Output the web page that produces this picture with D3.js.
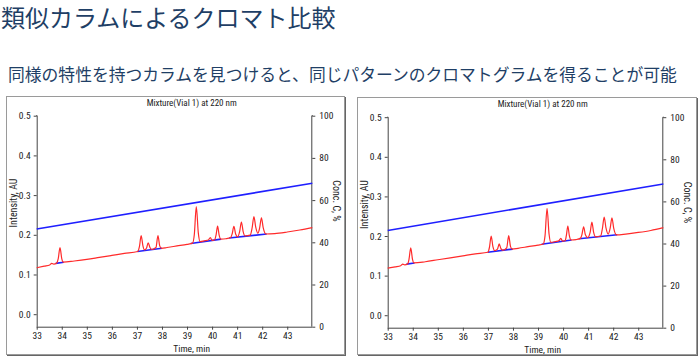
<!DOCTYPE html>
<html>
<head>
<meta charset="utf-8">
<script src="https://cdn.jsdelivr.net/npm/d3@7"></script>
<style>
  html, body { margin: 0; padding: 0; background: #fff; }
  svg { display: block; }
  .chart text { font-family: "Liberation Sans Narrow", "Arial Narrow", "Roboto Condensed", "Liberation Sans", Arial, sans-serif; fill: #222; }
  .jp { font-family: "Noto Sans CJK JP", "Noto Sans CJK SC", sans-serif; }
</style>
</head>
<body>
<svg id="root" width="700" height="357"></svg>
<script>
// ---------- data ----------
const titleText = "類似カラムによるクロマト比較";
const subtitleText = "同様の特性を持つカラムを見つけると、同じパターンのクロマトグラムを得ることが可能";
const chartTitle = "Mixture(Vial 1) at 220 nm";
const xLabel = "Time, min";
const yLabelLeft = "Intensity, AU";
const yLabelRight = "Conc. C, %";

const timeTicks = [33, 34, 35, 36, 37, 38, 39, 40, 41, 42, 43];
const auTicks = [0.0, 0.1, 0.2, 0.3, 0.4, 0.5];
const concTicks = [0, 20, 40, 60, 80, 100];

// gradient (% B) at start / end time
const gradientLeft = [[33, 46.3], [44, 68.0]];
const gradientRight = [[33, 46.2], [44, 68.3]];

// chromatogram trace [time, AU]
const traceLeft = [
  [33.0, 0.117], [33.3, 0.121], [33.52, 0.124], [33.6, 0.128], [33.68, 0.126], [33.8, 0.129],
  [33.86, 0.140], [33.93, 0.168], [34.0, 0.140], [34.06, 0.131],
  [34.5, 0.134], [35.0, 0.138], [35.5, 0.143], [36.0, 0.148], [36.5, 0.153], [37.03, 0.158],
  [37.1, 0.170], [37.17, 0.198], [37.24, 0.172], [37.3, 0.162],
  [37.38, 0.166], [37.45, 0.180], [37.52, 0.168], [37.6, 0.163],
  [37.76, 0.168], [37.84, 0.198], [37.91, 0.172], [37.98, 0.166],
  [38.2, 0.168], [38.6, 0.172], [39.0, 0.176], [39.22, 0.179],
  [39.29, 0.200], [39.37, 0.271], [39.45, 0.205], [39.52, 0.183],
  [39.7, 0.185], [39.85, 0.187], [39.93, 0.193], [40.0, 0.186], [40.1, 0.187],
  [40.16, 0.200], [40.22, 0.222], [40.28, 0.200], [40.35, 0.189],
  [40.55, 0.190], [40.74, 0.193], [40.8, 0.202], [40.87, 0.221], [40.94, 0.202], [41.02, 0.195],
  [41.1, 0.208], [41.17, 0.232], [41.24, 0.208], [41.32, 0.197], [41.52, 0.199],
  [41.6, 0.218], [41.67, 0.246], [41.74, 0.220], [41.83, 0.204],
  [41.9, 0.218], [41.97, 0.243], [42.04, 0.218], [42.15, 0.202],
  [42.5, 0.203], [43.0, 0.207], [43.5, 0.212], [44.0, 0.218]
];
const traceRight = [
  [33.0, 0.119], [33.3, 0.122], [33.52, 0.125], [33.6, 0.129], [33.68, 0.127], [33.8, 0.130],
  [33.85, 0.141], [33.92, 0.170], [33.99, 0.141], [34.05, 0.132],
  [34.5, 0.135], [35.0, 0.140], [35.5, 0.145], [36.0, 0.150], [36.5, 0.155], [37.0, 0.159],
  [37.06, 0.171], [37.13, 0.1995], [37.2, 0.173], [37.27, 0.163],
  [37.38, 0.167], [37.45, 0.180], [37.52, 0.168], [37.6, 0.164],
  [37.75, 0.170], [37.83, 0.201], [37.9, 0.174], [37.97, 0.167],
  [38.2, 0.169], [38.6, 0.173], [39.0, 0.177], [39.21, 0.180],
  [39.28, 0.201], [39.36, 0.270], [39.44, 0.205], [39.51, 0.184],
  [39.7, 0.186], [39.83, 0.188], [39.91, 0.194], [39.98, 0.187], [40.08, 0.188],
  [40.13, 0.201], [40.19, 0.225], [40.25, 0.201], [40.32, 0.190],
  [40.52, 0.191], [40.69, 0.194], [40.75, 0.203], [40.82, 0.223], [40.89, 0.203], [40.98, 0.196],
  [41.08, 0.209], [41.15, 0.235], [41.22, 0.209], [41.3, 0.198], [41.5, 0.200],
  [41.57, 0.219], [41.64, 0.248], [41.71, 0.221], [41.8, 0.205],
  [41.88, 0.220], [41.95, 0.246], [42.02, 0.220], [42.13, 0.203],
  [42.5, 0.205], [43.0, 0.209], [43.5, 0.214], [44.0, 0.221]
];
// integration baselines (blue) [[t1, AU1], [t2, AU2]]
const integLeft = [
  [[33.76, 0.128], [34.08, 0.131]],
  [[37.02, 0.158], [38.0, 0.166]],
  [[39.15, 0.178], [40.36, 0.189]],
  [[40.68, 0.192], [42.18, 0.202]]
];
const integRight = [
  [[33.75, 0.129], [34.07, 0.132]],
  [[36.99, 0.159], [37.99, 0.167]],
  [[39.14, 0.179], [40.34, 0.190]],
  [[40.64, 0.193], [42.16, 0.203]]
];

// ---------- drawing ----------
const svg = d3.select("#root");

svg.append("text").attr("class", "jp")
  .attr("x", 1).attr("y", 27)
  .attr("font-size", 24).attr("fill", "#1f3f66")
  .text(titleText);

svg.append("text").attr("class", "jp")
  .attr("x", 8).attr("y", 81)
  .attr("font-size", 16.8).attr("fill", "#1f3f66")
  .text(subtitleText);

function panel(frame, plot, trace, integ, gradient) {
  const g = svg.append("g").attr("class", "chart");
  // frame with slight shadow
  g.append("rect").attr("x", frame.x + 1.5).attr("y", frame.y + 1.5)
    .attr("width", frame.w).attr("height", frame.h)
    .attr("fill", "none").attr("stroke", "#666").attr("stroke-width", 1);
  g.append("rect").attr("x", frame.x + 0.5).attr("y", frame.y + 0.5)
    .attr("width", frame.w).attr("height", frame.h)
    .attr("fill", "#fff").attr("stroke", "#9a9a9a").attr("stroke-width", 1);

  const x = d3.scaleLinear().domain([33, 44]).range([plot.l, plot.r]);
  const yAU = d3.scaleLinear().domain([-0.0315, 0.5]).range([plot.b, plot.t]);
  const yC = d3.scaleLinear().domain([0, 100]).range([plot.b, plot.t]);

  const fontSize = 9.5;
  const xAxis = g.append("g").attr("transform", `translate(0,${plot.b})`)
    .call(d3.axisBottom(x).tickValues(timeTicks).tickSize(3).tickPadding(3).tickFormat(d3.format("d")));
  const lAxis = g.append("g").attr("transform", `translate(${plot.l},0)`)
    .call(d3.axisLeft(yAU).tickValues(auTicks).tickSize(3).tickPadding(3).tickFormat(d3.format(".1f")));
  const rAxis = g.append("g").attr("transform", `translate(${plot.r},0)`)
    .call(d3.axisRight(yC).tickValues(concTicks).tickSize(3).tickPadding(4).tickFormat(d3.format("d")));
  [xAxis, lAxis, rAxis].forEach(a => {
    a.select(".domain").attr("stroke", "#444");
    a.selectAll(".tick line").attr("stroke", "#444");
    a.selectAll(".tick text").attr("font-size", fontSize).attr("fill", "#222")
      .style("font-family", null);
    a.attr("font-family", null);
  });
  lAxis.select(".domain").attr("d", `M-0.5,${plot.t}H0.5V${plot.b}`);
  rAxis.select(".domain").attr("d", `M0.5,${plot.t}H-0.5V${plot.b}`);
  xAxis.select(".domain").attr("d", `M${0},0.5H${plot.r - plot.l}`).attr("transform", `translate(${plot.l},0)`);

  // gradient line
  g.append("path").datum(gradient)
    .attr("d", d3.line().x(d => x(d[0])).y(d => yC(d[1])))
    .attr("fill", "none").attr("stroke", "#1f1fff").attr("stroke-width", 1.6);

  // integration baselines
  g.selectAll(".integ").data(integ).enter().append("path")
    .attr("d", d3.line().x(d => x(d[0])).y(d => yAU(d[1])))
    .attr("fill", "none").attr("stroke", "#2020ff").attr("stroke-width", 1.6);

  // trace
  g.append("path").datum(trace)
    .attr("d", d3.line().curve(d3.curveMonotoneX).x(d => x(d[0])).y(d => yAU(d[1])))
    .attr("fill", "none").attr("stroke", "#ff2a2a").attr("stroke-width", 1.2);

  // labels
  const cx = plot.l + 155;
  g.append("text").attr("x", cx).attr("y", frame.y + 9.5)
    .attr("text-anchor", "middle").attr("font-size", 9).text(chartTitle);
  g.append("text").attr("x", cx).attr("y", plot.b + 25)
    .attr("text-anchor", "middle").attr("font-size", 9.5).text(xLabel);
  g.append("text").attr("transform", `translate(${plot.l - 20},${203 + (plot.t - 115.7)}) rotate(-90)`)
    .attr("text-anchor", "middle").attr("font-size", 10).text(yLabelLeft);
  g.append("text").attr("transform", `translate(${plot.r + 21},${201 + (plot.t - 115.7)}) rotate(90)`)
    .attr("text-anchor", "middle").attr("font-size", 10).text(yLabelRight);
}

panel({x: 6, y: 96, w: 338, h: 258}, {l: 36.7, r: 312.3, t: 115.7, b: 326.7}, traceLeft, integLeft, gradientLeft);
panel({x: 357, y: 97, w: 339, h: 257}, {l: 387.7, r: 663.3, t: 117.2, b: 327.7}, traceRight, integRight, gradientRight);
</script>
</body>
</html>
